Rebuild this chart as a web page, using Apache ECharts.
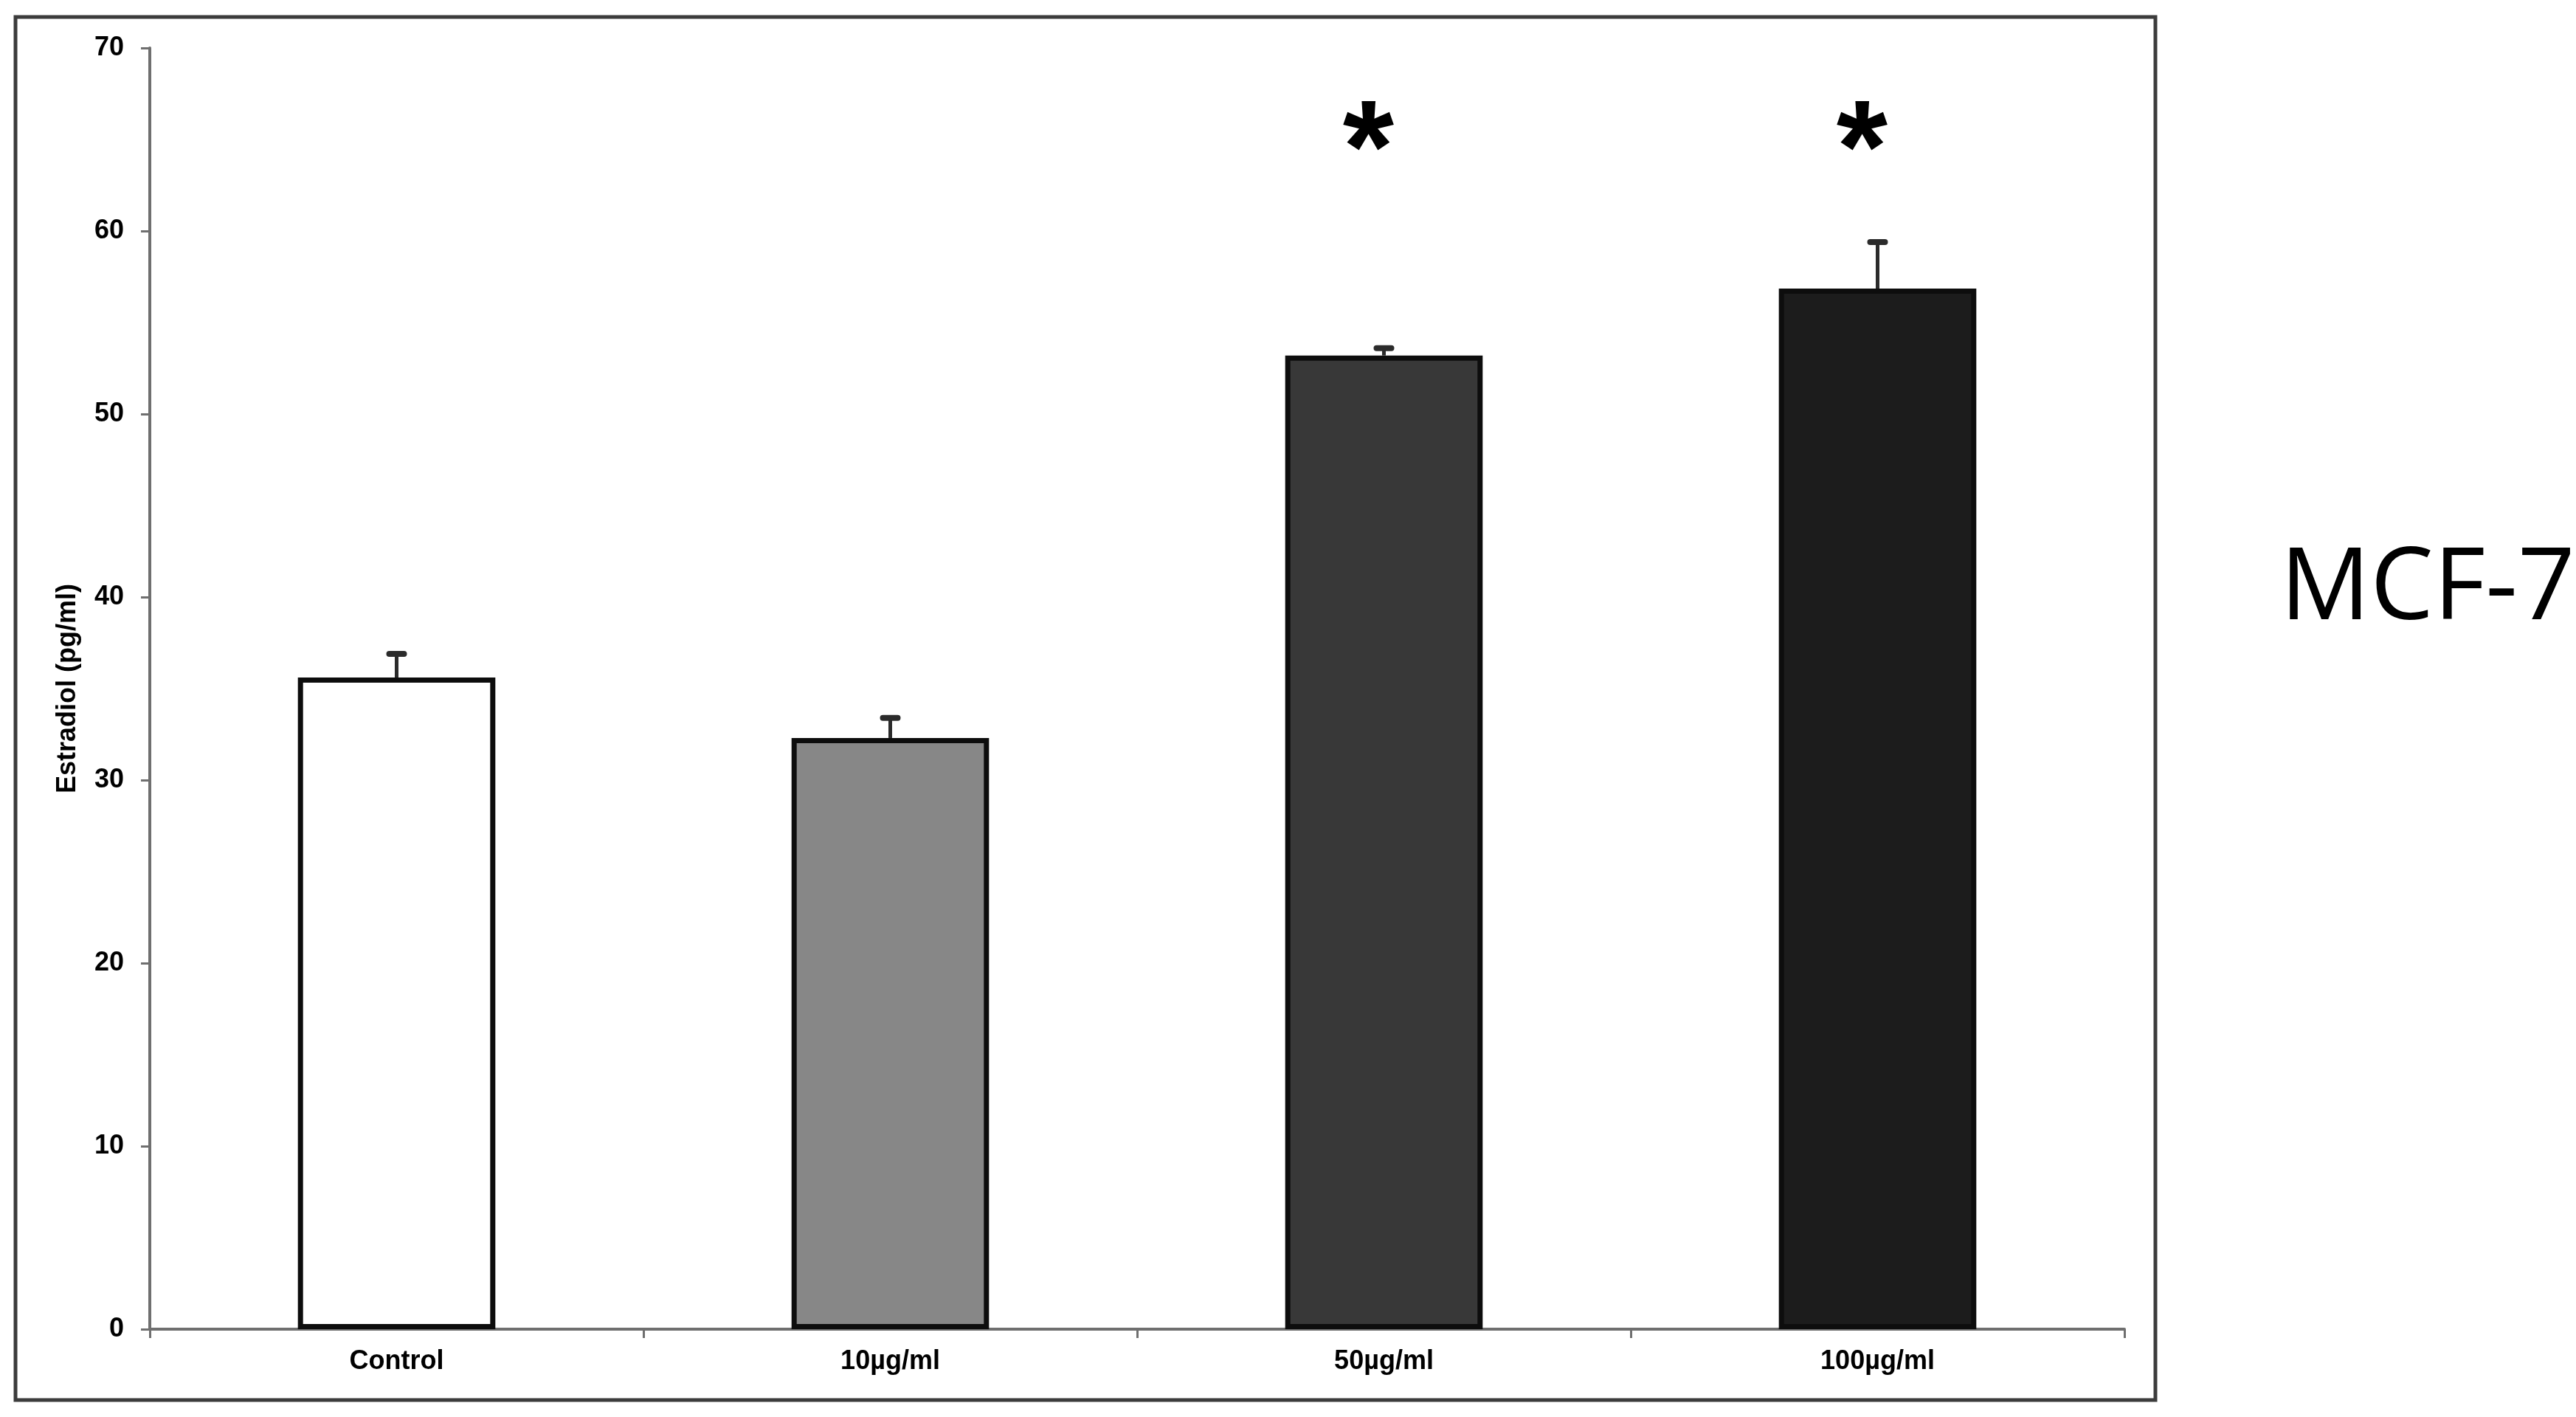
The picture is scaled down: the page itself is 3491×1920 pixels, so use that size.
<!DOCTYPE html>
<html>
<head>
<meta charset="utf-8">
<script src="https://cdn.jsdelivr.net/npm/echarts@6/dist/echarts.min.js"></script>
<style>
html,body{margin:0;padding:0;background:#fff;}
#chart{width:3491px;height:1920px;}
</style>
</head>
<body>
<div id="chart"></div>
<script>
// ---- data ----
const categories = ['Control', '10µg/ml', '50µg/ml', '100µg/ml'];
const means = [35.6, 32.3, 53.2, 56.85];
const errors = [1.3, 1.1, 0.4, 2.55];
const significant = [false, false, true, true];
const starLevel = 65.85;
const yTicks = [0, 10, 20, 30, 40, 50, 60, 70];
const barFills = ['#ffffff', '#878787', '#383838', '#1c1c1c'];

const FONT = '"Liberation Sans", Arial, sans-serif';
const chart = echarts.init(document.getElementById('chart'));

const barData = means.map((v, i) => ({
  value: v,
  itemStyle: { color: barFills[i] }
}));
const errData = means.map((v, i) => [i, v, v + errors[i]]);
const starData = [];
significant.forEach((s, i) => { if (s) starData.push([i, starLevel]); });

chart.setOption({
  animation: false,
  backgroundColor: '#ffffff',
  grid: { left: 203, right: 612, top: 65, bottom: 119, containLabel: false },
  xAxis: {
    type: 'category',
    data: categories,
    boundaryGap: true,
    axisLine: { show: true, lineStyle: { color: '#6f6f6f', width: 4 } },
    axisTick: { show: true, alignWithLabel: false, length: 12, lineStyle: { color: '#6f6f6f', width: 3 } },
    axisLabel: { margin: 26, color: '#000', fontFamily: FONT, fontWeight: 'bold', fontSize: 36 }
  },
  yAxis: {
    type: 'value',
    min: yTicks[0],
    max: yTicks[yTicks.length - 1],
    interval: 10,
    name: 'Estradiol (pg/ml)',
    nameLocation: 'middle',
    nameGap: 93,
    nameTextStyle: { color: '#000', fontFamily: FONT, fontWeight: 'bold', fontSize: 36 },
    splitLine: { show: false },
    axisLine: { show: true, lineStyle: { color: '#6f6f6f', width: 4 } },
    axisTick: { show: true, length: 12, lineStyle: { color: '#6f6f6f', width: 3 } },
    axisLabel: { margin: 35, color: '#000', fontFamily: FONT, fontWeight: 'bold', fontSize: 36 }
  },
  series: [
    {
      type: 'bar',
      data: barData,
      barWidth: '40%',
      itemStyle: { borderColor: '#0d0d0d', borderWidth: 7 },
      z: 2
    },
    {
      type: 'custom',
      data: errData,
      z: 3,
      renderItem: function (params, api) {
        const base = api.coord([api.value(0), api.value(1)]);
        const top = api.coord([api.value(0), api.value(2)]);
        return {
          type: 'group',
          children: [
            { type: 'line', shape: { x1: base[0], y1: base[1], x2: top[0], y2: top[1] },
              style: { stroke: '#2b2b2b', lineWidth: 5 } },
            { type: 'line', shape: { x1: top[0] - 10, y1: top[1], x2: top[0] + 10, y2: top[1] },
              style: { stroke: '#2b2b2b', lineWidth: 8, lineCap: 'round' } }
          ]
        };
      }
    },
    {
      type: 'scatter',
      data: starData,
      symbolSize: 0,
      itemStyle: { opacity: 1, color: '#000' },
      z: 4,
      label: {
        show: true,
        position: 'inside',
        formatter: '*',
        color: '#000',
        opacity: 1,
        fontFamily: FONT,
        fontWeight: 'bold',
        fontSize: 178,
        offset: [-21, 43]
      }
    }
  ],
  graphic: [
    { type: 'rect', shape: { x: 21, y: 23, width: 2900, height: 1874 },
      style: { fill: 'none', stroke: '#3c3c3c', lineWidth: 5 }, z: 0 },
    { type: 'text', x: 3090, y: 800,
      style: { text: 'MCF-7', fill: '#000', font: '136px "Open Sans", "Noto Sans", sans-serif',
               textAlign: 'left', textVerticalAlign: 'middle' } }
  ]
});
</script>
</body>
</html>
